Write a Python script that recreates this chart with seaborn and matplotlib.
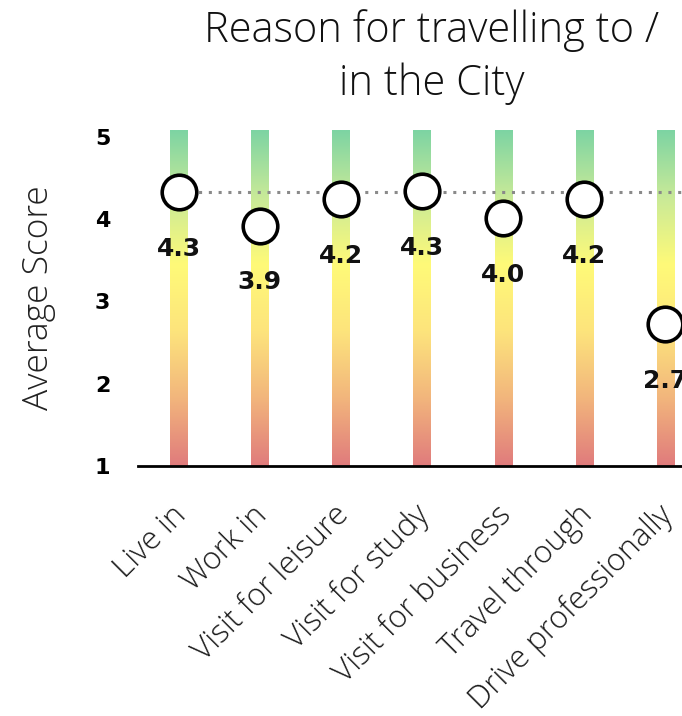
import numpy as np
import pandas as pd
import matplotlib
matplotlib.use("Agg")
import matplotlib.pyplot as plt
import matplotlib.transforms as mtransforms
from matplotlib.colors import LinearSegmentedColormap
import seaborn as sns

# Survey data
reasons = ["Live in", "Work in", "Visit for leisure", "Visit for study",
           "Visit for business", "Travel through", "Drive professionally"]
scores = [4.33, 3.92, 4.24, 4.34, 4.01, 4.24, 2.72]
reference_score = 4.33          # "Live in" score carried across as a reference line
scale_min, scale_max = 1, 5
y_ticks = [1, 2, 3, 4, 5]
title_lines = ["Reason for travelling to /", "in the City"]

df = pd.DataFrame({"reason": reasons, "score": scores})

sns.set_theme(style="white")
plt.rcParams["font.family"] = ["Open Sans", "DejaVu Sans"]

fig = plt.figure(figsize=(6.82, 7.16), dpi=100)
# axes runs past the right edge of the canvas
ax = fig.add_axes([138 / 682, 250 / 716, 568 / 682, 336 / 716])

# green-yellow-red scale used as the background of every column
cmap = LinearSegmentedColormap.from_list(
    "score_scale", ["#e07b7c", "#f2b57c", "#fde47c", "#fffa78", "#c9ea98", "#7dd4a3"])
grad = np.linspace(0, 1, 256).reshape(-1, 1)
bar_w = 0.21
top = 5.08
for i in range(len(reasons)):
    ax.imshow(grad, cmap=cmap, origin="lower", aspect="auto",
              extent=[i - bar_w / 2, i + bar_w / 2, scale_min, top],
              interpolation="bilinear", zorder=1)

# reference dotted line
ax.plot([0, len(reasons) + 1], [reference_score, reference_score],
        color="#8a8a8a", lw=2.2, ls=(0, (1, 2.2)), zorder=2)

sns.scatterplot(data=df, x="reason", y="score", ax=ax, s=620,
                facecolor="white", edgecolor="black", linewidth=2.6,
                zorder=3, clip_on=False, legend=False)

for i, v in enumerate(scores):
    ax.annotate(f"{v:.1f}", (i, v), xytext=(0, -41), textcoords="offset points",
                ha="center", va="center", fontsize=18, fontweight="bold",
                family="DejaVu Sans", color="#111111", zorder=4)

ax.set_xlim(-0.5, len(reasons) - 0.5)
ax.set_ylim(scale_min, top)
ax.set_yticks(y_ticks)
ax.set_yticklabels([str(t) for t in y_ticks], fontsize=16, fontweight="bold",
                   family="DejaVu Sans", color="black")
ax.set_xticks(range(len(reasons)))
ax.set_xticklabels(reasons, rotation=45, ha="right", rotation_mode="anchor",
                   fontsize=22.5, fontweight="light", color="#1a1a1a")
ax.tick_params(axis="y", length=0, pad=20)
ax.tick_params(axis="x", length=0, pad=24)
shift = mtransforms.ScaledTranslation(-8 / 100, 0, fig.dpi_scale_trans)
for lab in ax.get_xticklabels():
    lab.set_transform(lab.get_transform() + shift)

for s in ["left", "right", "top"]:
    ax.spines[s].set_visible(False)
ax.spines["bottom"].set_color("black")
ax.spines["bottom"].set_linewidth(2)
ax.spines["bottom"].set_zorder(5)

ax.set_xlabel("")
ax.set_ylabel("Average Score", fontsize=25.5, fontweight="light", color="#222222",
              labelpad=28)

fig.text(432 / 682, 1 - 42 / 716, title_lines[0], ha="center", va="baseline",
         fontsize=30, fontweight="light", color="#111111")
fig.text(432 / 682, 1 - 95 / 716, title_lines[1], ha="center", va="baseline",
         fontsize=30, fontweight="light", color="#111111")

fig.savefig("out.png", dpi=100)
